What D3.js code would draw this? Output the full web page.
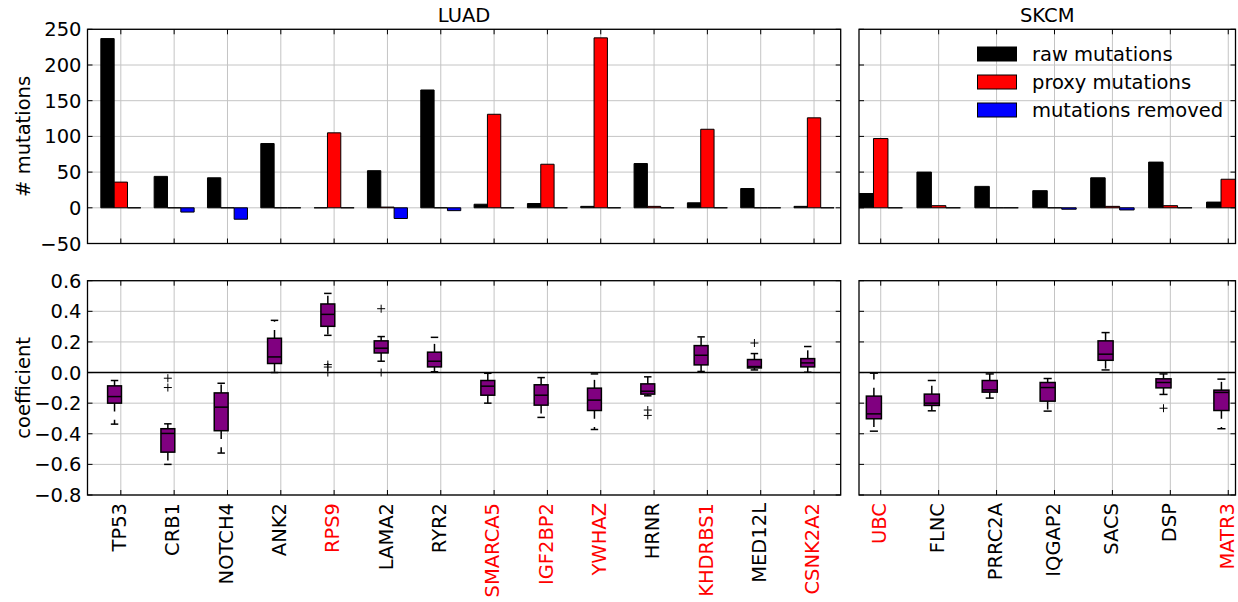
<!DOCTYPE html>
<html>
<head>
<meta charset="utf-8">
<script src="https://cdn.jsdelivr.net/npm/d3@7"></script>
<style>
  body { margin: 0; background: #fff; }
  svg text { font-family: "DejaVu Sans", sans-serif; fill: #000; }
</style>
</head>
<body>
<svg id="chart" width="1238" height="602"></svg>
<script>
// ---- data ----
const luadGenes = ["TP53","CRB1","NOTCH4","ANK2","RPS9","LAMA2","RYR2","SMARCA5","IGF2BP2","YWHAZ","HRNR","KHDRBS1","MED12L","CSNK2A2"];
const skcmGenes = ["UBC","FLNC","PRRC2A","IQGAP2","SACS","DSP","MATR3"];
const proxyGenes = ["RPS9","SMARCA5","IGF2BP2","YWHAZ","KHDRBS1","CSNK2A2","UBC","MATR3"];

const luadRaw     = [237, 44, 42, 90, 0, 52, 165, 5, 6, 2, 62, 7, 27, 2];
const luadProxy   = [36, 0, 0, 0, 105, 1, 0, 131, 61, 238, 2, 110, 0, 126];
const luadRemoved = [0, -6, -16, 0, 0, -15, -4, 0, 0, 0, 0, 0, 0, 0];

const skcmRaw     = [20, 50, 30, 24, 42, 64, 8];
const skcmProxy   = [97, 3, 0, 0, 2, 3, 40];
const skcmRemoved = [0, 0, 0, -2, -3, 0, 0];

// coefficient summaries: [lower whisker, q1, median, q3, upper whisker]
const luadBoxes = [
  [-0.337, -0.200, -0.157, -0.087, -0.052],
  [-0.600, -0.520, -0.398, -0.367, -0.335],
  [-0.526, -0.380, -0.226, -0.133, -0.070],
  [ 0.000,  0.059,  0.102,  0.224,  0.341],
  [ 0.243,  0.302,  0.380,  0.448,  0.517],
  [ 0.074,  0.128,  0.159,  0.207,  0.235],
  [ 0.005,  0.037,  0.074,  0.133,  0.230],
  [-0.200, -0.148, -0.089, -0.052, -0.005],
  [-0.293, -0.213, -0.148, -0.080, -0.033],
  [-0.372, -0.248, -0.180, -0.102, -0.009],
  [-0.152, -0.141, -0.122, -0.074, -0.028],
  [ 0.007,  0.050,  0.113,  0.176,  0.233],
  [ 0.017,  0.030,  0.039,  0.085,  0.124],
  [ 0.002,  0.037,  0.063,  0.091,  0.170]
];
const luadFliers = [[], [-0.037, -0.098], [], [], [0.052, 0.036, 0.0], [0.417, 0.0], [], [], [], [], [-0.245, -0.28], [], [0.193], []];

const skcmBoxes = [
  [-0.383, -0.302, -0.270, -0.154, -0.004],
  [-0.250, -0.215, -0.200, -0.141, -0.052],
  [-0.167, -0.128, -0.113, -0.052, -0.009],
  [-0.252, -0.187, -0.098, -0.065, -0.039],
  [ 0.017,  0.080,  0.120,  0.207,  0.261],
  [-0.143, -0.100, -0.065, -0.041, -0.009],
  [-0.367, -0.248, -0.130, -0.115, -0.043]
];
const skcmFliers = [[], [], [], [], [], [-0.233], []];

const mutTicks  = [-50, 0, 50, 100, 150, 200, 250];
const coefTicks = [-0.8, -0.6, -0.4, -0.2, 0.0, 0.2, 0.4, 0.6];

const seriesColors = ["#000000", "#ff0000", "#0000ff"];
const seriesNames  = ["raw mutations", "proxy mutations", "mutations removed"];

// ---- layout ----
const svg = d3.select("#chart");
const FS = 19.5;
const topRow = { y0: 29.3, y1: 243.5 };
const botRow = { y0: 280.7, y1: 495 };

const yMut  = d3.scaleLinear([-50, 250], [topRow.y1, topRow.y0]);
const yCoef = d3.scaleLinear([-0.8, 0.6], [botRow.y1, botRow.y0]);

const panels = [
  { id: "luad", title: "LUAD", genes: luadGenes, raw: luadRaw, proxy: luadProxy, removed: luadRemoved,
    boxes: luadBoxes, fliers: luadFliers, left: 87.5, right: 840.7, domain: [-0.625, 13.5], labels: true },
  { id: "skcm", title: "SKCM", genes: skcmGenes, raw: skcmRaw, proxy: skcmProxy, removed: skcmRemoved,
    boxes: skcmBoxes, fliers: skcmFliers, left: 859, right: 1235.5, domain: [-0.375, 6.125], labels: false }
];

const defs = svg.append("defs");

function frame(g, x0, x1, y0, y1) {
  g.append("rect").attr("x", x0).attr("y", y0).attr("width", x1 - x0).attr("height", y1 - y0)
    .attr("fill", "none").attr("stroke", "#000").attr("stroke-width", 1.3);
}

function grid(g, x, y, xs, ys, x0, x1, y0, y1) {
  const gg = g.append("g").attr("stroke", "#c4c4c4").attr("stroke-width", 1);
  gg.selectAll("line.h").data(ys).join("line").attr("class", "h")
    .attr("x1", x0).attr("x2", x1).attr("y1", d => y(d)).attr("y2", d => y(d));
  gg.selectAll("line.v").data(xs).join("line").attr("class", "v")
    .attr("x1", d => x(d)).attr("x2", d => x(d)).attr("y1", y0).attr("y2", y1);
}

function ticks(g, x, y, xs, ys, x0, x1, y0, y1, fmt) {
  const t = 5;
  const tg = g.append("g").attr("stroke", "#000").attr("stroke-width", 1);
  ys.forEach(v => {
    tg.append("line").attr("x1", x0).attr("x2", x0 + t).attr("y1", y(v)).attr("y2", y(v));
    tg.append("line").attr("x1", x1).attr("x2", x1 - t).attr("y1", y(v)).attr("y2", y(v));
  });
  xs.forEach(v => {
    tg.append("line").attr("x1", x(v)).attr("x2", x(v)).attr("y1", y0).attr("y2", y0 + t);
    tg.append("line").attr("x1", x(v)).attr("x2", x(v)).attr("y1", y1).attr("y2", y1 - t);
  });
  if (fmt) {
    g.append("g").selectAll("text").data(ys).join("text")
      .attr("x", x0 - 6).attr("y", d => y(d)).attr("dy", "0.36em")
      .attr("text-anchor", "end").attr("font-size", FS).text(fmt);
  }
}

const fmtMut  = d => d < 0 ? "\u2212" + Math.abs(d) : String(d);
const fmtCoef = d3.format(".1f");

panels.forEach(p => {
  const x = d3.scaleLinear(p.domain, [p.left, p.right]);
  const idx = d3.range(p.genes.length);

  // ---------- mutation counts ----------
  const gt = svg.append("g");
  grid(gt, x, yMut, idx, mutTicks, p.left, p.right, topRow.y0, topRow.y1);

  defs.append("clipPath").attr("id", "clip-" + p.id)
    .append("rect").attr("x", p.left).attr("y", topRow.y0)
    .attr("width", p.right - p.left).attr("height", topRow.y1 - topRow.y0);

  const bars = gt.append("g").attr("clip-path", `url(#clip-${p.id})`);
  const series = [p.raw, p.proxy, p.removed];
  const bw = 0.25;
  series.forEach((vals, s) => {
    bars.append("g").selectAll("path").data(vals).join("path")
      .attr("d", (v, i) => {
        const xa = x(i - 0.375 + s * bw), xb = x(i - 0.375 + (s + 1) * bw);
        const ya = yMut(0), yb = yMut(v);
        return `M${xa},${ya}H${xb}V${yb}H${xa}Z`;
      })
      .attr("fill", seriesColors[s]).attr("stroke", "#000").attr("stroke-width", 1);
  });

  ticks(gt, x, yMut, idx, mutTicks, p.left, p.right, topRow.y0, topRow.y1, p.labels ? fmtMut : null);
  frame(gt, p.left, p.right, topRow.y0, topRow.y1);

  gt.append("text").attr("x", (p.left + p.right) / 2).attr("y", 22)
    .attr("text-anchor", "middle").attr("font-size", FS).text(p.title);

  // ---------- coefficients ----------
  const gb = svg.append("g");
  grid(gb, x, yCoef, idx, coefTicks, p.left, p.right, botRow.y0, botRow.y1);
  gb.append("line").attr("x1", p.left).attr("x2", p.right)
    .attr("y1", yCoef(0)).attr("y2", yCoef(0)).attr("stroke", "#000").attr("stroke-width", 1.6);

  const boxHalf = 0.13, capHalf = 0.07, off = -0.118;
  const bg = gb.append("g").selectAll("g").data(p.boxes).join("g");
  bg.each(function (b, i) {
    const g = d3.select(this);
    const cx = x(i + off);
    const [lo, q1, med, q3, hi] = b;
    // whiskers
    [[q1, lo], [q3, hi]].forEach(([from, to]) => {
      g.append("line").attr("x1", cx).attr("x2", cx)
        .attr("y1", yCoef(from)).attr("y2", yCoef(to))
        .attr("stroke", "#000").attr("stroke-width", 1.5).attr("stroke-dasharray", "8.3,8.3");
      g.append("line").attr("x1", x(i + off - capHalf)).attr("x2", x(i + off + capHalf))
        .attr("y1", yCoef(to)).attr("y2", yCoef(to))
        .attr("stroke", "#000").attr("stroke-width", 1.5);
    });
    // box
    g.append("rect").attr("x", x(i + off - boxHalf)).attr("y", yCoef(q3))
      .attr("width", x(i + off + boxHalf) - x(i + off - boxHalf))
      .attr("height", yCoef(q1) - yCoef(q3))
      .attr("fill", "#800080").attr("stroke", "#000").attr("stroke-width", 1.5);
    g.append("line").attr("x1", x(i + off - boxHalf)).attr("x2", x(i + off + boxHalf))
      .attr("y1", yCoef(med)).attr("y2", yCoef(med))
      .attr("stroke", "#000").attr("stroke-width", 1.5);
    // outliers
    p.fliers[i].forEach(f => {
      const fy = yCoef(f);
      g.append("path").attr("d", `M${cx - 4},${fy}H${cx + 4}M${cx},${fy - 4}V${fy + 4}`)
        .attr("stroke", "#000").attr("stroke-width", 1).attr("fill", "none");
    });
  });

  ticks(gb, x, yCoef, idx, coefTicks, p.left, p.right, botRow.y0, botRow.y1, p.labels ? fmtCoef : null);
  frame(gb, p.left, p.right, botRow.y0, botRow.y1);

  // gene names
  gb.append("g").selectAll("text").data(p.genes).join("text")
    .attr("transform", (d, i) => `translate(${x(i)},${botRow.y1 + 8}) rotate(-90)`)
    .attr("dy", "0.27em").attr("text-anchor", "end").attr("font-size", FS)
    .style("fill", d => proxyGenes.includes(d) ? "#ff0000" : "#000")
    .text(d => d);

  // legend in the SKCM count panel
  if (p.id === "skcm") {
    const lg = svg.append("g");
    seriesNames.forEach((name, s) => {
      const cy = 54 + s * 28;
      lg.append("rect").attr("x", 977.5).attr("y", cy - 7).attr("width", 39).attr("height", 14)
        .attr("fill", seriesColors[s]).attr("stroke", "#000").attr("stroke-width", 1);
      lg.append("text").attr("x", 1032).attr("y", cy).attr("dy", "0.36em")
        .attr("font-size", FS).text(name);
    });
  }
});

// axis titles
svg.append("text").attr("transform", `translate(29.5,${(topRow.y0 + topRow.y1) / 2}) rotate(-90)`)
  .attr("text-anchor", "middle").attr("font-size", FS).text("# mutations");
svg.append("text").attr("transform", `translate(29.5,${(botRow.y0 + botRow.y1) / 2}) rotate(-90)`)
  .attr("text-anchor", "middle").attr("font-size", FS).text("coefficient");
</script>
</body>
</html>
